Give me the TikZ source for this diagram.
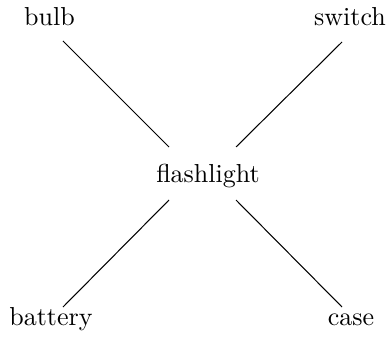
\documentclass[tikz,border=0pt]{standalone}
\begin{document}
\begin{tikzpicture}[x=0.3846pt,y=-0.3846pt,
  lbl/.style={anchor=base, inner sep=3.33pt},
  conn/.style={draw, line width=0.4pt}]
\useasboundingbox (0,0) rectangle (387,339);
\node[lbl] (flash) at (208,182) {flashlight};
\node[lbl] (bulb) at (49.5,26) {bulb};
\node[lbl] (switch) at (350,26) {switch};
\node[lbl] (battery) at (51,325) {battery};
\node[lbl] (case) at (351,325) {case};
\draw[conn] ([shift={(-39,-35)}]flash.base) -- ([shift={(13.5,15)}]bulb.base);
\draw[conn] ([shift={(28,-35)}]flash.base) -- ([shift={(-8,16)}]switch.base);
\draw[conn] ([shift={(-39,18)}]flash.base) -- ([shift={(12,-18)}]battery.base);
\draw[conn] ([shift={(28,18)}]flash.base) -- ([shift={(-9,-18)}]case.base);
\end{tikzpicture}
\end{document}
